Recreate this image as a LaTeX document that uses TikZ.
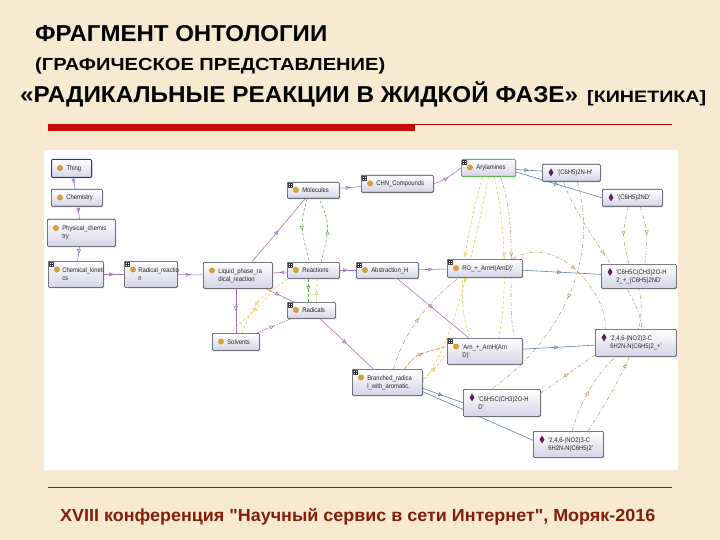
\documentclass[tikz,border=0pt]{standalone}
\usepackage{fontspec}
\setmainfont{Liberation Sans}
\newfontfamily\ndf[FakeStretch=0.88]{Liberation Sans}
\newfontfamily\footf[Ligatures=TeXOff]{Liberation Sans}
\usetikzlibrary{calc,decorations.markings,arrows.meta,shadows}
\definecolor{bgc}{RGB}{247,234,208}
\definecolor{redbar}{RGB}{200,10,10}
\definecolor{footc}{RGB}{130,30,10}
\definecolor{nodeb}{RGB}{55,55,70}
\definecolor{nodebot}{RGB}{212,212,232}
\definecolor{iconc}{RGB}{214,160,55}
\definecolor{indc}{RGB}{95,30,90}
\definecolor{cpurple}{RGB}{165,110,195}
\definecolor{cgreen}{RGB}{95,175,70}
\definecolor{cyellow}{RGB}{228,208,95}
\definecolor{ctan}{RGB}{190,160,115}
\definecolor{corange}{RGB}{225,130,60}
\definecolor{cteal}{RGB}{95,135,160}
\pgfdeclarelayer{bgl}
\pgfdeclarelayer{edgel}
\pgfsetlayers{bgl,edgel,main}
\newcommand\ontocls[2]{\fill[iconc] ($(#1.north west)+(9,#2)$) circle[radius=3pt];}
\newcommand\ontoind[2]{\fill[indc] ($(#1.north west)+(9,#2)+(0,-4)$) -- ++(2.4,4) -- ++(-2.4,4) -- ++(-2.4,-4) -- cycle;}
\newcommand\ontoexp[1]{\draw[black!75,fill=white,line width=0.35pt] ($(#1.north west)+(1,1)$) rectangle ++(4.5,4.5);
  \draw[black!85,line width=0.35pt] ($(#1.north west)+(1.9,3.25)$) -- ++(2.7,0) ($(#1.north west)+(3.25,1.9)$) -- ++(0,2.7);}
\begin{document}
\begin{tikzpicture}[x=1pt,y=-1pt,
  onto/.style={draw=nodeb, line width=0.6pt, rounded corners=1pt, top color=white, bottom color=nodebot,
    anchor=north west, inner xsep=2pt, inner ysep=0pt, align=left,
    font=\ndf\fontsize{6.7}{8}\selectfont, text=black!85,
    drop shadow={shadow xshift=1pt, shadow yshift=-1pt, opacity=0.3}},
  midmark/.style={postaction={decorate, decoration={markings,
    mark=at position 0.5 with {\arrow{Triangle[open,length=4.5pt,width=4pt]}}}}},
  isa/.style={draw=cpurple, line width=0.55pt, midmark},
  pdash/.style={draw=cpurple, line width=0.55pt, dash pattern=on 4pt off 1.5pt on 1pt off 1.5pt, midmark},
  gdash/.style={draw=cgreen, line width=0.55pt, dash pattern=on 3pt off 2pt, midmark},
  ydash/.style={draw=cyellow, line width=0.6pt, dash pattern=on 3pt off 2pt, midmark},
  tdash/.style={draw=ctan, line width=0.55pt, dash pattern=on 4pt off 2pt on 1pt off 2pt, midmark},
  odash/.style={draw=corange, line width=0.6pt, dash pattern=on 4pt off 1.5pt, midmark},
  teal/.style={draw=cteal, line width=0.6pt, midmark},
  titletext/.style={anchor=base west, inner sep=0pt, font=\bfseries}
]
\useasboundingbox (0,0) rectangle (720,540);
\begin{pgfonlayer}{bgl}
\fill[bgc] (0,0) rectangle (720,540);
\fill[white] (44,150) rectangle (678,470);
\end{pgfonlayer}

% titles
\node[titletext, font=\bfseries\fontsize{23}{25}\selectfont] (t1) at (35,42) {\resizebox{292pt}{\height}{ФРАГМЕНТ ОНТОЛОГИИ}};
\node[titletext, font=\bfseries\fontsize{17.5}{19}\selectfont] (t2) at (35,71) {\resizebox{350pt}{\height}{(ГРАФИЧЕСКОЕ ПРЕДСТАВЛЕНИЕ)}};
\node[titletext, font=\bfseries\fontsize{23}{25}\selectfont] (t3) at (20,103) {\resizebox{558pt}{\height}{«РАДИКАЛЬНЫЕ РЕАКЦИИ В ЖИДКОЙ ФАЗЕ»}};
\node[titletext, font=\bfseries\fontsize{16.5}{18}\selectfont] (t4) at (587,103) {\resizebox{119pt}{\height}{[КИНЕТИКА]}};
\fill[redbar] (48,124) rectangle (415,131);
\draw[redbar!80!black, line width=0.8pt] (415,124.4) -- (672,124.4);
\draw[footc, line width=0.9pt] (48,487) -- (672,487);
\node[titletext, text=footc, font=\footf\bfseries\fontsize{17.5}{19}\selectfont] (foot) at (60,521) {\resizebox{595pt}{\height}{XVIII конференция "Научный сервис в сети Интернет", Моряк-2016}};

% nodes
\node[onto, draw={rgb,255:red,40;green,50;blue,175}, line width=1pt, text width=36pt, minimum height=18pt] (thing) at (51,159) {\leftskip=13pt Thing\par};
\node[onto, text width=47pt, minimum height=17pt] (chem) at (51,189) {\leftskip=13pt Chemistry\par};
\node[onto, text width=64pt, minimum height=27pt] (phys) at (47,219) {\leftskip=13pt Physical\_chemis\\try\par};
\node[onto, text width=51pt, minimum height=26pt] (kin) at (48,261) {\leftskip=12pt Chemical\_kineti\\cs\par};
\node[onto, text width=49pt, minimum height=26pt] (radr) at (124,261) {\leftskip=12pt Radical\_reactio\\n\par};
\node[onto, text width=65pt, minimum height=26pt] (liq) at (203,262) {\leftskip=13pt Liquid\_phase\_ra\\dical\_reaction\par};
\node[onto, text width=48pt, minimum height=16pt] (mol) at (287,182) {\leftskip=13pt Molecules\par};
\node[onto, text width=68pt, minimum height=17pt] (chn) at (361,175) {\leftskip=13pt CHN\_Compounds\par};
\node[onto, text width=48pt, minimum height=16pt] (react) at (287,262) {\leftskip=13pt Reactions\par};
\node[onto, text width=58pt, minimum height=16pt] (abst) at (356,262) {\leftskip=13pt Abstraction\_H\par};
\node[onto, text width=44pt, minimum height=16pt] (rad) at (287,302) {\leftskip=13pt Radicals\par};
\node[onto, text width=43pt, minimum height=17pt] (solv) at (212,333) {\leftskip=13pt Solvents\par};
\node[onto, text width=66pt, minimum height=26pt] (branch) at (352,369) {\leftskip=13pt Branched\_radica\\l\_with\_aromatic.\par};
\node[onto, draw={rgb,255:red,90;green,185;blue,90}, line width=0.9pt, text width=50pt, minimum height=17pt] (aryl) at (461,159) {\leftskip=13pt Arylamines\par};
\node[onto, text width=54pt, minimum height=17pt] (ind1) at (542,164) {\leftskip=13pt '(C6H5)2N-H'\par};
\node[onto, text width=56pt, minimum height=17pt] (ind2) at (602,189) {\leftskip=13pt '(C6H5)2ND'\par};
\node[onto, text width=71pt, minimum height=18pt] (ro) at (447,259) {\leftskip=13pt RO\_+\_ArnH(ArnD)'\par};
\node[onto, text width=71pt, minimum height=24pt] (ind3) at (601,264) {\leftskip=13pt 'C6H5C(CH3)2O-H\\2\_+\_(C6H5)2ND'\par};
\node[onto, text width=71pt, minimum height=26pt] (arn) at (447,338) {\leftskip=13pt 'Arn\_+\_ArnH(Arn\\D)'\par};
\node[onto, text width=77pt, minimum height=27pt] (ind4) at (595,329) {\leftskip=13pt '2,4,6-(NO2)3-C\\6H2N-N(C6H5)2\_+'\par};
\node[onto, text width=73pt, minimum height=27pt] (ind5) at (463,389) {\leftskip=13pt 'C6H5C(CH3)2O-H\\D'\par};
\node[onto, text width=66pt, minimum height=26pt] (ind6) at (533,431) {\leftskip=13pt '2,4,6-(NO2)3-C\\6H2N-N(C6H5)2'\par};

% icons
\ontocls{thing}{9}
\ontocls{chem}{8.5}
\ontocls{phys}{9}
\ontocls{kin}{8.5}
\ontocls{radr}{8.5}
\ontocls{liq}{8.5}
\ontocls{mol}{8}
\ontocls{chn}{8.5}
\ontocls{react}{8}
\ontocls{abst}{8}
\ontocls{rad}{8}
\ontocls{solv}{8.5}
\ontocls{branch}{8.5}
\ontocls{aryl}{8.5}
\ontocls{ro}{9}
\ontocls{arn}{8.5}
\ontoind{ind1}{8.5}
\ontoind{ind2}{8.5}
\ontoind{ind3}{8}
\ontoind{ind4}{8.5}
\ontoind{ind5}{8.5}
\ontoind{ind6}{8.5}
\foreach \n in {kin,radr,mol,chn,react,abst,rad,branch,aryl,ro,arn} {\ontoexp{\n}}

% edges
\begin{pgfonlayer}{edgel}
\draw[isa] (thing) -- (chem);
\draw[isa] (chem) -- (phys);
\draw[isa] (phys) -- (kin);
\draw[isa] (kin) -- (radr);
\draw[isa] (radr) -- (liq);
\draw[isa] ($(liq.north)+(14,0)$) -- ($(mol.south)+(-8,0)$);
\draw[isa] (react) -- (liq);
\draw[isa] (react) -- (abst);
\draw[isa] (abst) -- (ro);
\draw[isa] (mol) -- (chn);
\draw[isa] (chn.east) .. controls (445,180) .. (aryl.west);
\draw[isa] ($(liq.south)+(-2,0)$) -- ($(solv.north)+(0,0)$);
\draw[isa] (liq) -- (rad);
\draw[pdash] (solv) -- (rad);
\draw[isa] (rad) -- (branch);
\draw[isa] (abst) -- (arn);
% green / yellow dashed
\draw[gdash] ($(mol.south)+(-6,0)$) .. controls (300,225) .. ($(react.north)+(-4,0)$);
\draw[gdash] ($(react.north)+(8,0)$) .. controls (330,225) .. ($(mol.south)+(6,0)$);
\draw[gdash] ($(react.south)+(-5,0)$) -- ($(rad.north)+(-3,0)$);
\draw[ydash] ($(rad.north)+(5,0)$) -- ($(react.south)+(4,0)$);
\draw[ydash] ($(solv.north)+(6,0)$) .. controls (256,300) .. ($(react.south west)+(2,0)$);
\draw[ydash] ($(liq.south east)+(-2,0)$) .. controls (272,300) and (240,320) .. ($(solv.north)+(-4,0)$);
\draw[ydash] ($(aryl.south)+(-6,0)$) .. controls (468,230) and (452,300) .. ($(arn.north)+(-14,0)$);
\draw[ydash] ($(aryl.south)+(6,0)$) .. controls (508,240) and (506,300) .. ($(arn.north)+(14,0)$);
\draw[ydash] ($(aryl.south)+(0,0)$) .. controls (470,270) and (450,350) .. ($(branch.east)+(0,0)$);
\draw[ydash] ($(branch.east)+(0,-3)$) .. controls (432,372) .. ($(arn.west)+(0,2)$);
\draw[tdash] ($(branch.north)+(6,0)$) .. controls (405,330) and (430,300) .. ($(ro.south west)+(12,0)$);
\draw[odash] ($(branch.north east)+(-18,0)$) .. controls (415,355) .. ($(arn.west)+(0,-5)$);
\draw[tdash] ($(aryl.south)+(12,0)$) .. controls (520,230) and (505,300) .. ($(arn.north east)+(-8,0)$);
\draw[tdash] ($(ind1.south)+(6,0)$) .. controls (600,260) and (560,340) .. ($(ind5.north)+(-10,0)$);
\draw[tdash] ($(ind1.south)+(-8,0)$) .. controls (585,240) and (640,290) .. ($(ind4.north)+(6,0)$);
\draw[tdash] ($(ind2.south)+(-4,0)$) .. controls (622,235) .. ($(ind3.north)+(-10,0)$);
\draw[tdash] ($(ind2.south)+(8,0)$) .. controls (648,232) .. ($(ind3.north)+(6,0)$);
\draw[tdash] ($(ind5.north east)+(0,4)$) .. controls (560,380) and (580,365) .. ($(ind4.south west)+(2,-3)$);
\draw[tdash] ($(ind6.north)+(4,0)$) .. controls (580,400) and (600,370) .. ($(ind4.south)+(-20,0)$);
\draw[tdash] ($(ind6.north)+(20,0)$) .. controls (620,380) and (650,330) .. ($(ind3.south)+(0,0)$);
\draw[tdash] ($(ro.north east)+(-10,0)$) .. controls (560,230) and (610,300) .. ($(ind4.north west)+(10,0)$);
% teal
\draw[teal] (aryl) -- (ind1);
\draw[teal] ($(aryl.east)+(0,4)$) -- (ind2.west);
\draw[teal] (ro) -- (ind3);
\draw[teal] (arn) -- (ind4);
\draw[teal] ($(branch.east)+(0,6)$) -- (ind5.west);
\draw[teal] ($(branch.south east)+(0,-4)$) -- ($(ind6.west)+(0,-4)$);
\end{pgfonlayer}
\end{tikzpicture}
\end{document}
